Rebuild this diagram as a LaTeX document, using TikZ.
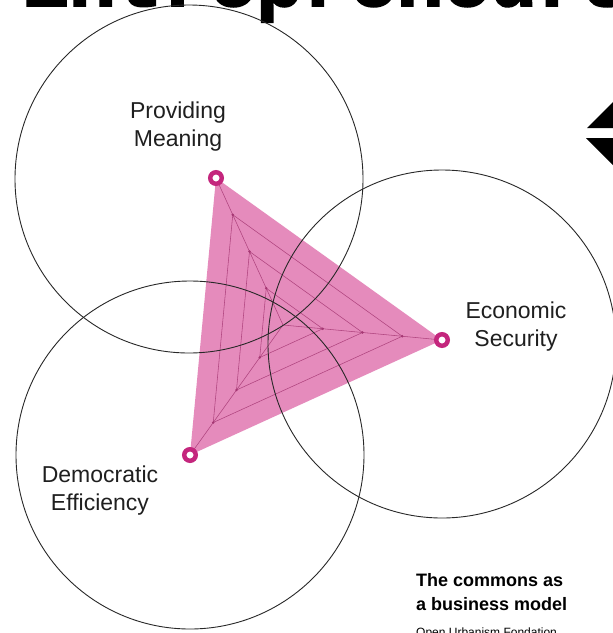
\documentclass[tikz,border=0pt]{standalone}
\usepackage{fontspec}
\usepackage{xcolor}
\usepackage{tikz}
\usetikzlibrary{calc}
\setmainfont{Liberation Sans}
\newfontfamily\headfont{Liberation Mono Bold}[FakeBold=2.5]
\definecolor{radarpink}{RGB}{229,139,188}
\definecolor{radarline}{RGB}{165,55,115}
\definecolor{markerpink}{RGB}{196,38,125}
\definecolor{lensgray}{RGB}{40,40,40}

\begin{document}
\begin{tikzpicture}[x=1pt, y=-1pt]
    \tikzstyle{radar} = [fill=radarpink, draw=none]
    \tikzstyle{gridline} = [draw=radarline, line width=0.55pt, opacity=0.85]
    \tikzstyle{lens} = [draw=lensgray, line width=0.9pt]
    \tikzstyle{vertexmark} = [circle, draw=markerpink, line width=4.5pt, fill=white, minimum size=11.5pt, inner sep=0pt]
    \tikzstyle{pillar} = [align=center, text=black!88, font=\fontsize{23}{28}\selectfont]

    % Frame
    \useasboundingbox (0,0) rectangle (613,633);
    \clip (0,0) rectangle (613,633);
    \fill[white] (0,0) rectangle (613,633);

    % Cropped headline and arrow
    \node[anchor=base west, inner sep=0pt, font=\headfont\fontsize{78}{78}\selectfont] (headline) at (22,6) {Entrepreneurs};
    \fill[black] (587,128) -- (650,128) -- (650,65) -- cycle;
    \fill[black] (586,138) -- (650,138) -- (650,202) -- cycle;

    % Radar axes
    \coordinate (center) at (283,325);
    \coordinate (meaning) at (216,178);
    \coordinate (security) at (442,340);
    \coordinate (efficiency) at (190,455);

    % Radar area and grid
    \fill[radar] (meaning) -- (security) -- (efficiency) -- cycle;
    \foreach \k in {0.25,0.5,0.75}
        \draw[gridline] ($(center)!\k!(meaning)$) -- ($(center)!\k!(security)$) -- ($(center)!\k!(efficiency)$) -- cycle;
    \foreach \v in {meaning,security,efficiency} {
        \draw[gridline] (center) -- (\v);
        \foreach \k in {0.25,0.5,0.75}
            \fill[radarline] ($(center)!\k!(\v)$) circle (1.3);
    }

    % Circles
    \draw[lens] (189,179) circle (174);
    \draw[lens] (442,344) circle (174);
    \draw[lens] (190,455) circle (174);

    % Vertex markers
    \node[vertexmark] (meaningmark) at (meaning) {};
    \node[vertexmark] (securitymark) at (security) {};
    \node[vertexmark] (efficiencymark) at (efficiency) {};

    % Labels
    \node[pillar] (meaninglabel) at (178,127) {Providing\\Meaning};
    \node[pillar] (securitylabel) at (516,327) {Economic\\Security};
    \node[pillar] (efficiencylabel) at (100,491) {Democratic\\Efficiency};

    % Caption
    \node[anchor=north west, align=left, inner sep=0pt, font=\bfseries\fontsize{18}{24}\selectfont] (caption) at (416,573) {The commons as\\a business model};
    \node[anchor=north west, inner sep=0pt, font=\fontsize{12}{14}\selectfont] (credit) at (416,628) {Open Urbanism Fondation};
\end{tikzpicture}
\end{document}
